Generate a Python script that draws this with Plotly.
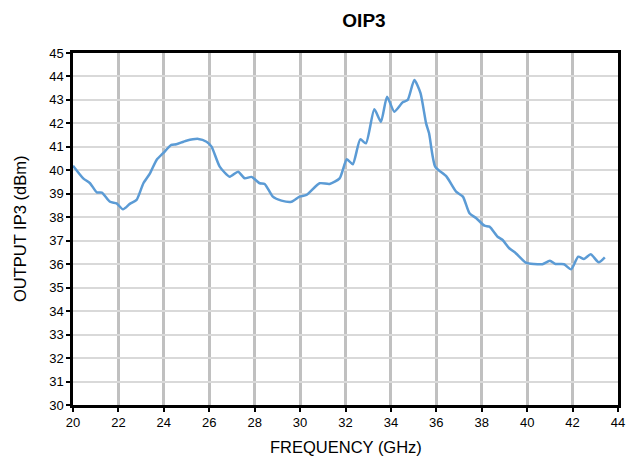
import plotly.graph_objects as go

freq = [20.0, 20.45, 20.75, 21.05, 21.27, 21.63, 21.92, 22.2, 22.5, 22.8, 23.1, 23.39, 23.68, 23.97,
        24.33, 24.55, 24.99, 25.52, 25.88, 26.1, 26.46, 26.9, 27.27, 27.56, 27.86, 28.22, 28.44,
        28.8, 29.18, 29.62, 29.98, 30.28, 30.86, 31.3, 31.74, 32.06, 32.32, 32.65, 32.9, 33.27,
        33.56, 33.83, 34.15, 34.52, 34.74, 35.03, 35.3, 35.55, 35.68, 35.95, 36.45, 36.87, 37.17,
        37.46, 37.76, 38.12, 38.34, 38.7, 38.92, 39.21, 39.5, 39.94, 40.3, 40.67, 41.0, 41.25,
        41.62, 41.93, 42.25, 42.5, 42.8, 43.15, 43.42]
oip3 = [40.2, 39.66, 39.45, 39.06, 39.05, 38.66, 38.59, 38.34, 38.57, 38.74, 39.45, 39.87, 40.44, 40.73,
        41.08, 41.11, 41.26, 41.34, 41.22, 41.01, 40.16, 39.73, 39.94, 39.66, 39.72, 39.45, 39.42,
        38.88, 38.71, 38.66, 38.88, 38.95, 39.45, 39.42, 39.66, 40.47, 40.26, 41.32, 41.15, 42.6,
        42.07, 43.14, 42.5, 42.9, 43.0, 43.85, 43.3, 42.0, 41.58, 40.16, 39.73, 39.09, 38.88,
        38.17, 37.96, 37.64, 37.6, 37.17, 37.03, 36.68, 36.47, 36.07, 36.01, 36.0, 36.15, 36.01,
        36.0, 35.78, 36.32, 36.22, 36.42, 36.08, 36.29]

title_text = "OIP3"
x_title = "FREQUENCY (GHz)"
y_title = "OUTPUT IP3 (dBm)"

# page body has an 8px default margin; figure is sized to fit inside the 634x458 window
W, H = 626, 450
fig = go.Figure()
fig.add_trace(go.Scatter(x=freq, y=oip3, mode="lines",
                         line=dict(color="#5B9BD5", width=2.5, shape="spline", smoothing=0.6),
                         showlegend=False, hoverinfo="skip"))

font = "Liberation Sans, Arial, sans-serif"
fig.update_layout(
    width=W, height=H,
    margin=dict(l=65, r=16, t=45, b=53, autoexpand=False),
    paper_bgcolor="white", plot_bgcolor="white",
    font=dict(family=font, size=13, color="black"),
    title=dict(text="<b>" + title_text + "</b>", x=(356 / W), xanchor="center",
               y=1 - 12 / H, yanchor="middle",
               font=dict(family=font, size=19, color="black")),
    annotations=[
        dict(text=x_title, xref="paper", yref="paper", x=0.5, y=(405 - 447) / 352,
             xanchor="center", yanchor="middle", showarrow=False,
             font=dict(family=font, size=16.5, color="black")),
        dict(text=y_title, xref="paper", yref="paper", x=(20 - 73) / 545, y=0.5,
             xanchor="center", yanchor="middle", textangle=-90, showarrow=False,
             font=dict(family=font, size=16.5, color="black")),
    ],
)
fig.update_xaxes(range=[20, 44], dtick=2, tick0=20, automargin=False,
                 showgrid=True, gridcolor="#C0C0C0", gridwidth=3,
                 showline=True, linecolor="black", linewidth=2.5, mirror=True,
                 ticks="outside", ticklen=4, tickcolor="black", tickwidth=1.5,
                 zeroline=False, tickfont=dict(family=font, size=13))
fig.update_yaxes(range=[30, 45], dtick=1, tick0=30, automargin=False,
                 showgrid=True, gridcolor="#D9D9D9", gridwidth=1.5,
                 showline=True, linecolor="black", linewidth=2.5, mirror=True,
                 ticks="outside", ticklen=4, tickcolor="black", tickwidth=1.5,
                 zeroline=False, tickfont=dict(family=font, size=13))

fig.write_html("out.html")
